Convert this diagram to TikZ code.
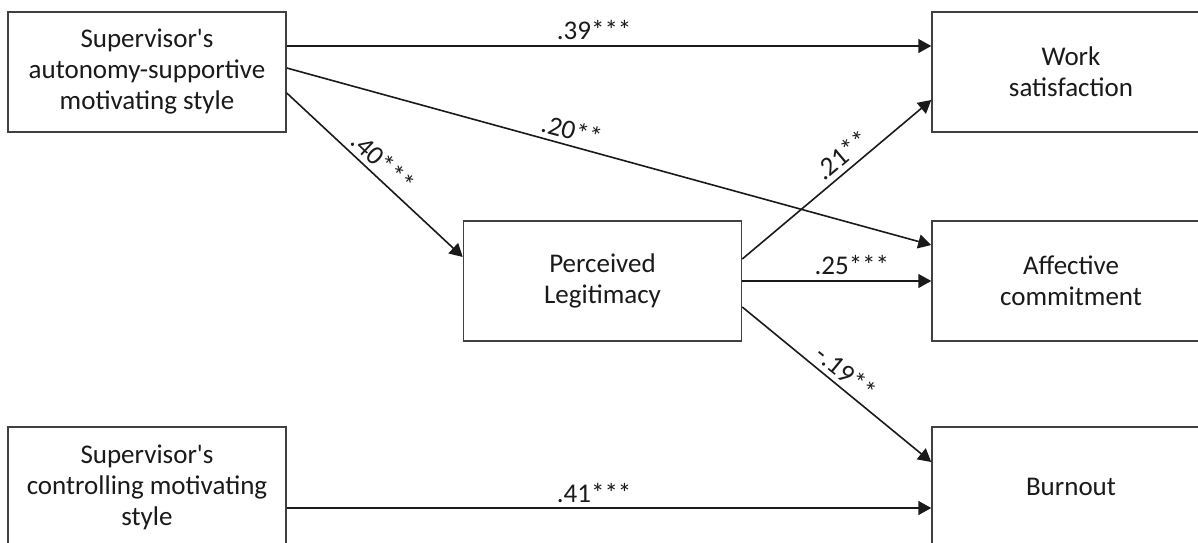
\documentclass[tikz,border=0pt]{standalone}
\usepackage{fontspec}
\setmainfont{Carlito}
\usetikzlibrary{arrows.meta}
\definecolor{Ink}  {HTML}{1A1A1A}
\definecolor{Frame}{HTML}{404040}
\tikzset{
  vbox/.style={
    rectangle, draw=Frame, fill=white, text=Ink,
    line width=0.75pt, align=center, inner sep=2pt,
    minimum width=139pt, minimum height=60pt,
    font=\fontsize{13.5}{15.5}\selectfont,
  },
  link/.style={
    -{Triangle[length=6.5pt,width=7pt]},
    line width=0.8pt, color=Ink,
  },
  coef/.style={
    font=\fontsize{13.5}{15}\selectfont, text=Ink, inner sep=2.5pt,
  },
}
\begin{document}
\begin{tikzpicture}[x=0.5pt,y=-0.5pt]
  \useasboundingbox (0,0) rectangle (1198,542);
  \clip (0,0) rectangle (1198,542);
  % predictors, mediator, outcomes
  \node[vbox] (asup)  at (147,72)    {Supervisor\textquotesingle s\\autonomy-supportive\\motivating style};
  \node[vbox] (ctrl)  at (147,487)   {Supervisor\textquotesingle s\\controlling motivating\\style};
  \node[vbox] (legit) at (602.5,281) {Perceived\\Legitimacy};
  \node[vbox] (ws)    at (1071,72)   {Work\\satisfaction};
  \node[vbox] (ac)    at (1071,281)  {Affective\\commitment};
  \node[vbox] (burn)  at (1071,487)  {Burnout};
  % paths
  \draw[link] ([yshift=13pt]asup.east) -- node[coef, above, pos=0.477] {.39***} ([yshift=13pt]ws.west);
  \draw[link] ([yshift=2pt]asup.east) -- node[coef, sloped, above, pos=0.436] {.20**} ([yshift=18pt]ac.west);
  \draw[link] ([yshift=-10.5pt]asup.east) -- node[coef, sloped, above, pos=0.49] {.40***} ([yshift=12pt]legit.west);
  \draw[link] ([yshift=11pt]legit.east) -- node[coef, sloped, above, pos=0.58] {.21**} ([yshift=-14pt]ws.west);
  \draw[link] (legit.east) -- node[coef, above, pos=0.58] {.25***} (ac.west);
  \draw[link] ([yshift=-13pt]legit.east) -- node[coef, sloped, above, pos=0.5] {-.19**} ([yshift=12.5pt]burn.west);
  \draw[link] ([yshift=-10.5pt]ctrl.east) -- node[coef, above, pos=0.477] {.41***} ([yshift=-10.5pt]burn.west);
\end{tikzpicture}
\end{document}
